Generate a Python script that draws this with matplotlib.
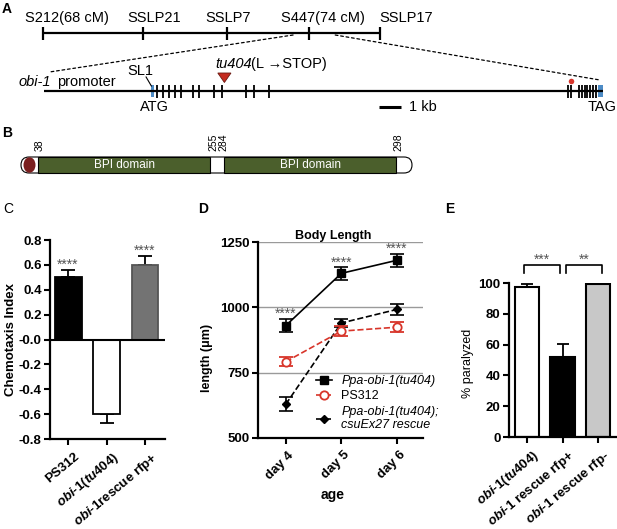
import matplotlib
matplotlib.use("Agg")
import numpy as np
import matplotlib.pyplot as plt
from matplotlib.patches import Rectangle, Polygon, Ellipse, FancyBboxPatch, ConnectionPatch
from matplotlib.lines import Line2D
from matplotlib.transforms import ScaledTranslation

plt.rcParams['font.family'] = ['Liberation Sans', 'DejaVu Sans']
plt.rcParams['axes.unicode_minus'] = False
plt.rcParams['mathtext.fontset'] = 'custom'
plt.rcParams['mathtext.it'] = 'Liberation Sans:italic:bold'
plt.rcParams['mathtext.rm'] = 'Liberation Sans:bold'
plt.rcParams['mathtext.bf'] = 'Liberation Sans:bold'

# ---------------- data ----------------
# Panel A: genetic map (cM) and gene model (kb from promoter start)
map_markers = ["S212(68 cM)", "SSLP21", "SSLP7", "S447(74 cM)", "SSLP17"]
map_cm = [68.0, 70.26, 72.15, 74.0, 75.6]
gene_length_kb = 25.41
exon_kb = [5.14, 5.41, 5.68, 5.95, 6.23, 6.77, 7.05, 7.73, 8.09, 9.18, 9.55, 10.23,
           23.82, 23.95, 24.32, 24.45, 24.59, 24.68, 24.82, 24.95, 25.09]
utr_kb = [(4.86, 5.0), (25.18, 25.41)]
mutation_kb = 8.2
site_kb = 23.95

# Panel B: protein domains
domain_bounds = ["38", "255", "284", "298"]
domain_names = ["BPI domain", "BPI domain"]

# Panel C: chemotaxis
c_labels = ["PS312", r"$\mathit{obi}$-$\mathit{1(tu404)}$", r"$\mathit{obi}$-$\mathit{1}$rescue rfp+"]
c_values = [0.50, -0.60, 0.60]
c_err = [0.055, 0.075, 0.07]
c_sig = ["****", "", "****"]

# Panel D: body length
d_days = ["day 4", "day 5", "day 6"]
d_mut = [930, 1130, 1180]
d_mut_err = [26, 24, 25]
d_wt = [792, 909, 924]
d_wt_err = [18, 20, 20]
d_res = [629, 940, 992]
d_res_err = [26, 15, 22]
d_sig = ["****", "****", "****"]
d_names = ["Ppa-obi-1(tu404)", "PS312", "Ppa-obi-1(tu404);\ncsuEx27 rescue"]

# Panel E: paralysis
e_labels = [r"$\mathit{obi}$-$\mathit{1(tu404)}$", r"$\mathit{obi}$-$\mathit{1}$ rescue rfp+",
            r"$\mathit{obi}$-$\mathit{1}$ rescue rfp-"]
e_values = [97.2, 51.7, 99.4]
e_err = [2.1, 8.9, 0.6]
e_comparisons = [(0, 1, "***"), (1, 2, "**")]

# ---------------- figure ----------------
W, H = 617, 529
fig = plt.figure(figsize=(W / 100, H / 100), dpi=100)
fig.patch.set_facecolor('white')


def px_axes(l, t, r, b):
    return fig.add_axes([l / W, 1 - b / H, (r - l) / W, (b - t) / H])


ov = px_axes(0, 0, W, H)
ov.set_xlim(0, W)
ov.set_ylim(H, 0)
ov.axis('off')

STAR = dict(fontsize=10, color='#555555', ha='center', va='baseline')

# panel letters
for letter, (x, y), wt in [("A", (2, 2), 'bold'), ("B", (2, 126), 'bold'), ("C", (3, 202), 'normal'),
                           ("D", (198, 202), 'bold'), ("E", (445, 202), 'bold')]:
    ov.text(x, y, letter, fontsize=10, fontweight=wt, ha='left', va='top')

# ---------------- Panel A ----------------
ax_map = px_axes(43, 0, 380, H)
ax_map.set_xlim(map_cm[0], map_cm[-1])
ax_map.set_ylim(H, 0)
ax_map.axis('off')
ax_map.plot([map_cm[0], map_cm[-1]], [33, 33], color='black', lw=1.6, clip_on=False,
            solid_capstyle='butt')
ax_map.vlines(map_cm, 27, 40, color='black', lw=1.6, clip_on=False)
label_x = [67, 154.5, 228.5, 322.5, 406]
for name, x in zip(map_markers, label_x):
    ov.text(x, 18, name, ha='center', va='center', fontsize=10.5)

ax_gene = px_axes(44, 0, 603, H)
ax_gene.set_xlim(0, gene_length_kb)
ax_gene.set_ylim(H, 0)
ax_gene.axis('off')
ax_gene.plot([0, gene_length_kb], [91, 91], color='black', lw=1.6, clip_on=False,
             solid_capstyle='butt')
ax_gene.vlines(exon_kb, 85, 98, color='black', lw=1.3, clip_on=False)
for a, b in utr_kb:
    ax_gene.add_patch(Rectangle((a, 85), b - a, 12, facecolor='#4d8cc6', edgecolor='none',
                                clip_on=False))
ax_gene.add_patch(Polygon([[mutation_kb - 0.3, 73], [mutation_kb + 0.3, 73], [mutation_kb, 82.5]],
                          closed=True, facecolor='#c42b20', edgecolor='#6a1a12', lw=0.6,
                          clip_on=False))
ax_gene.plot([site_kb], [81], 'o', color='#d8362d', ms=4, mec='none', clip_on=False)
ax_gene.plot([utr_kb[0][0] - 0.22, utr_kb[0][0] + 0.02], [77, 86], color='black', lw=0.8)
ax_gene.plot([15.25, 16.25], [107, 107], color='black', lw=2.2, solid_capstyle='butt')

for xyA, xyB in [((73.64, 35), (0.25, 72)), ((74.59, 35), (25.27, 80))]:
    con = ConnectionPatch(xyA=xyA, xyB=xyB, coordsA='data', coordsB='data',
                          axesA=ax_map, axesB=ax_gene, color='black', lw=0.9,
                          ls=(0, (2.2, 2.2)))
    fig.add_artist(con)

ov.text(19, 82, "obi-1", fontsize=10.5, style='italic', ha='left', va='center')
ov.text(57, 82, "promoter", fontsize=10.5, ha='left', va='center')
ov.text(127, 71, "SL1", fontsize=10.5, ha='left', va='center')
ov.text(215, 64, "tu404", fontsize=10.5, style='italic', ha='left', va='center')
ov.text(251, 64, "(L \u2192STOP)", fontsize=10.5, ha='left', va='center')
ov.text(154, 107, "ATG", fontsize=10.5, ha='center', va='center')
ov.text(602, 107, "TAG", fontsize=10.5, ha='center', va='center')
ov.text(409, 107, "1 kb", fontsize=10.5, ha='left', va='center')

# ---------------- Panel B ----------------
bx = [38, 210, 224, 396]
ov.add_patch(FancyBboxPatch((21, 157), 391, 16, boxstyle='round,pad=0,rounding_size=8',
                            facecolor='white', edgecolor='black', lw=0.8))
ov.add_patch(Ellipse((29.5, 165), 12, 15.5, facecolor='#7a1e1e', edgecolor='none'))
for (a, b), name in zip([(bx[0], bx[1]), (bx[2], bx[3])], domain_names):
    ov.add_patch(Rectangle((a, 157), b - a, 16, facecolor='#4b5f2c', edgecolor='black', lw=0.8))
    ov.text((a + b) / 2, 165.5, name, color='white', fontsize=8.5, ha='center', va='center')
for lab, x in zip(domain_bounds, [40, 213, 223, 398]):
    ov.text(x, 151, lab, rotation=90, fontsize=7.5, ha='center', va='bottom')

# ---------------- Panel C ----------------
axC = px_axes(50, 240, 165, 439)
xc = np.arange(len(c_values))
axC.bar(xc, c_values, width=0.7, color=['black', 'white', '#737373'],
        edgecolor=['black', 'black', '#555555'], lw=1.3, zorder=2)
lo = [0 if v > 0 else e for v, e in zip(c_values, c_err)]
hi = [e if v > 0 else 0 for v, e in zip(c_values, c_err)]
axC.errorbar(xc, c_values, yerr=[lo, hi], fmt='none', ecolor='black', elinewidth=1.3,
             capsize=5, capthick=1.3, zorder=1)
axC.axhline(0, color='black', lw=1.5, zorder=3)
for i, (v, e, s) in enumerate(zip(c_values, c_err, c_sig)):
    if s:
        axC.text(i, v + e + 0.01, s, **STAR)
axC.set_ylim(-0.8, 0.8)
axC.set_xlim(-0.47, 2.52)
yt = np.round(np.arange(-0.8, 0.81, 0.2), 1)
axC.set_yticks(yt)
axC.set_yticklabels(["%.1f" % t for t in yt])
axC.set_xticks(xc)
axC.set_xticklabels(c_labels, rotation=40, ha='right', rotation_mode='anchor')
axC.set_ylabel("Chemotaxis Index", fontsize=9.5, fontweight='bold')
axC.yaxis.set_label_coords(-0.29, 0.5)

# ---------------- Panel D ----------------
axD = px_axes(258, 242, 423, 438)
xd = np.arange(len(d_days))
for y in [750, 1000, 1250]:
    axD.axhline(y, color='#9a9a9a', lw=1.0, zorder=0)
red = '#d8352a'
axD.errorbar(xd, d_res, yerr=d_res_err, color='black', ls='--', lw=1.2, marker='D', ms=4.5,
             capsize=5, capthick=1.2, elinewidth=1.2, zorder=3)
axD.errorbar(xd, d_wt, yerr=d_wt_err, color=red, ls='--', lw=1.2, marker='o', ms=6,
             mfc='white', mec=red, mew=1.3, capsize=5, capthick=1.2, elinewidth=1.2, zorder=4)
axD.errorbar(xd, d_mut, yerr=d_mut_err, color='black', ls='-', lw=1.2, marker='s', ms=6,
             capsize=5, capthick=1.2, elinewidth=1.2, zorder=5)
for i, (v, e, s) in enumerate(zip(d_mut, d_mut_err, d_sig)):
    axD.text(i, v + e + 3, s, **STAR)
axD.set_ylim(500, 1250)
axD.set_xlim(-0.5, 2.47)
axD.set_yticks([500, 750, 1000, 1250])
axD.set_xticks(xd)
axD.set_xticklabels(d_days, rotation=45, ha='right', rotation_mode='anchor')
axD.set_title("Body Length", fontsize=9, fontweight='bold', pad=2, x=0.455)
axD.set_ylabel("length (\u03bcm)", fontsize=9, fontweight='bold')
axD.yaxis.set_label_coords(-0.27, 0.41)
axD.set_xlabel("age", fontsize=10, fontweight='bold')
axD.xaxis.set_label_coords(0.455, -0.255)
handles = [Line2D([], [], color='black', ls='-', lw=1.2, marker='s', ms=6),
           Line2D([], [], color=red, ls='--', lw=1.2, marker='o', ms=6, mfc='white', mec=red, mew=1.3),
           Line2D([], [], color='black', ls='--', lw=1.2, marker='D', ms=4.5)]
leg = axD.legend(handles, d_names, loc='upper left', bbox_to_anchor=(0.35, 0.32), frameon=False,
                 fontsize=9, handlelength=1.3, handletextpad=0.75, labelspacing=0.25,
                 borderaxespad=0, borderpad=0)
for t, name in zip(leg.get_texts(), d_names):
    if name.startswith("Ppa"):
        t.set_fontstyle('italic')

# ---------------- Panel E ----------------
axE = px_axes(509, 283, 616, 437)
xe = np.arange(len(e_values))
axE.bar(xe, e_values, width=0.68, color=['white', 'black', '#c8c8c8'], edgecolor='black',
        lw=1.5, zorder=2)
axE.errorbar(xe, e_values, yerr=[[0] * len(e_err), e_err], fmt='none', ecolor='black',
             elinewidth=1.3, capsize=4.5, capthick=1.3, zorder=1)
for i, j, s in e_comparisons:
    x0, x1 = i - 0.08 + 0.18 * i, j - 0.06 + 0.16 * i
    axE.plot([x0, x0, x1, x1], [106.5, 111.8, 111.8, 106.5], color='black', lw=1.2,
             clip_on=False)
    axE.text((x0 + x1) / 2, 112.8, s, clip_on=False, **STAR)
axE.set_ylim(0, 100)
axE.set_xlim(-0.5, 2.5)
axE.set_yticks(np.arange(0, 101, 20))
axE.set_xticks(xe)
axE.set_xticklabels(e_labels, rotation=40, ha='right', rotation_mode='anchor')
axE.set_ylabel("% paralyzed", fontsize=9)
axE.yaxis.set_label_coords(-0.33, 0.48)

# common axis styling
for ax, dx in ((axC, 6), (axD, 2), (axE, 5)):
    for side in ('top', 'right'):
        ax.spines[side].set_visible(False)
    for side in ('left', 'bottom'):
        ax.spines[side].set_linewidth(1.6)
    ax.tick_params(axis='both', width=1.5, length=4, labelsize=9.5, pad=2)
    ax.tick_params(axis='x', pad=4)
    for lab in ax.get_xticklabels() + ax.get_yticklabels():
        lab.set_fontweight('bold')
    off = ScaledTranslation(dx / 100, 0, fig.dpi_scale_trans)
    for lab in ax.get_xticklabels():
        lab.set_transform(lab.get_transform() + off)

fig.savefig("out.png", dpi=100)
